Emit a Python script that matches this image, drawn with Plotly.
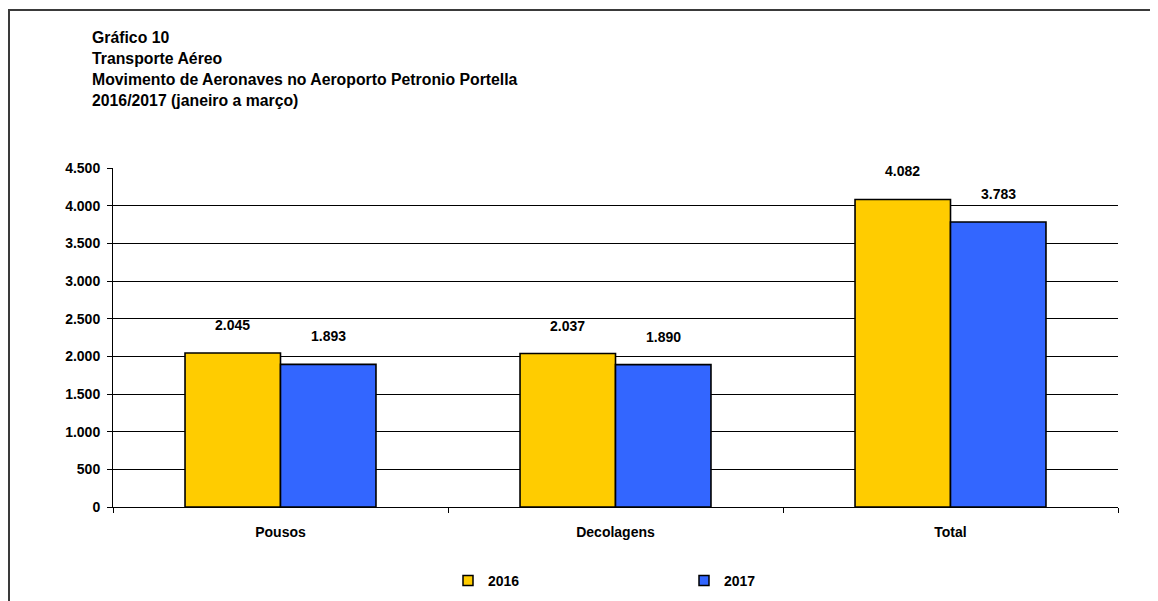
import plotly.graph_objects as go

categories = ["Pousos", "Decolagens", "Total"]
series_names = ["2016", "2017"]
values_2016 = [2045, 2037, 4082]
values_2017 = [1893, 1890, 3783]
y_ticks = [0, 500, 1000, 1500, 2000, 2500, 3000, 3500, 4000, 4500]
title_lines = [
    "Gráfico 10",
    "Transporte Aéreo",
    "Movimento de Aeronaves no Aeroporto Petronio Portella",
    "2016/2017 (janeiro a março)",
]

colors = ["#FFCC00", "#3366FF"]
FONT = "Liberation Sans, Arial, sans-serif"

# page body adds an 8px margin; figure coordinates = screen - 8
OFF = 8
W, H = 1158 - OFF, 601 - OFF
L = 113 - OFF
T = 168 - OFF
R = W - (1118 - OFF)
B = H - (507 - OFF)
pw, ph = W - L - R, H - T - B


def py(p):
    return (H - B - (p - OFF)) / ph


def px(p):
    return ((p - OFF) - L) / pw


def fmt(v):
    return f"{v:,}".replace(",", ".")


fig = go.Figure()
for name, vals, col in zip(series_names, [values_2016, values_2017], colors):
    fig.add_trace(go.Bar(
        x=categories, y=vals, name=name, showlegend=False,
        marker=dict(color=col, line=dict(color="#000000", width=1.6)),
        hoverinfo="x+y",
    ))
# legend proxies (small square swatches like the original)
for name, col in zip(series_names, colors):
    fig.add_trace(go.Scatter(
        x=[None], y=[None], name=name, mode="markers",
        marker=dict(symbol="square", size=10, color=col,
                    line=dict(color="#000000", width=1.5)),
    ))

bargap = 0.43
bar_px = pw / len(categories) * (1 - bargap) / 2
annotations = []
for i, vals in enumerate([values_2016, values_2017]):
    shift = (-0.5 if i == 0 else 0.5) * bar_px
    for c, v in zip(categories, vals):
        annotations.append(dict(
            x=c, y=v, xref="x", yref="y", text=fmt(v), showarrow=False,
            xshift=shift, yshift=28, yanchor="middle",
            font=dict(family=FONT, size=14, color="#000", weight="bold"),
        ))

title_y = [37.5, 58.5, 79.5, 100.5]
for line, yp in zip(title_lines, title_y):
    annotations.append(dict(
        x=px(90), y=py(yp), xref="paper", yref="paper", text=line,
        showarrow=False, xanchor="left", yanchor="middle",
        font=dict(family=FONT, size=15.8, color="#000", weight="bold"),
    ))

fig.update_layout(
    width=W, height=H,
    margin=dict(l=L, r=R, t=T, b=B, autoexpand=False),
    paper_bgcolor="white", plot_bgcolor="white",
    barmode="group", bargap=bargap, bargroupgap=0,
    separators=",.",
    showlegend=True,
    legend=dict(
        orientation="h", x=px(448), y=py(581), xanchor="left", yanchor="middle",
        entrywidth=191, entrywidthmode="pixels",
        font=dict(family=FONT, size=14, color="#000", weight="bold"),
        bgcolor="rgba(0,0,0,0)",
    ),
    annotations=annotations,
    xaxis=dict(
        showline=True, linecolor="#000", linewidth=1,
        ticks="outside", tickson="boundaries", ticklen=5, tickcolor="#000",
        ticklabelstandoff=12, automargin=False,
        tickfont=dict(family=FONT, size=14, color="#000", weight="bold"),
        showgrid=False, fixedrange=True,
    ),
    yaxis=dict(
        range=[0, 4500], tickvals=y_ticks, tickformat=",d",
        showline=True, linecolor="#000", linewidth=1,
        ticks="outside", ticklen=5, tickcolor="#000",
        ticklabelstandoff=4, automargin=False,
        showgrid=True, gridcolor="#000", gridwidth=1,
        zeroline=False,
        tickfont=dict(family=FONT, size=14, color="#000", weight="bold"),
        fixedrange=True,
    ),
    shapes=[dict(
        type="path", xref="paper", yref="paper",
        path=f"M {px(9)} {py(700)} L {px(9)} {py(10)} L {px(1300)} {py(10)}",
        line=dict(color="#3a3a3a", width=2),
    )],
)

fig.write_html("out.html")
